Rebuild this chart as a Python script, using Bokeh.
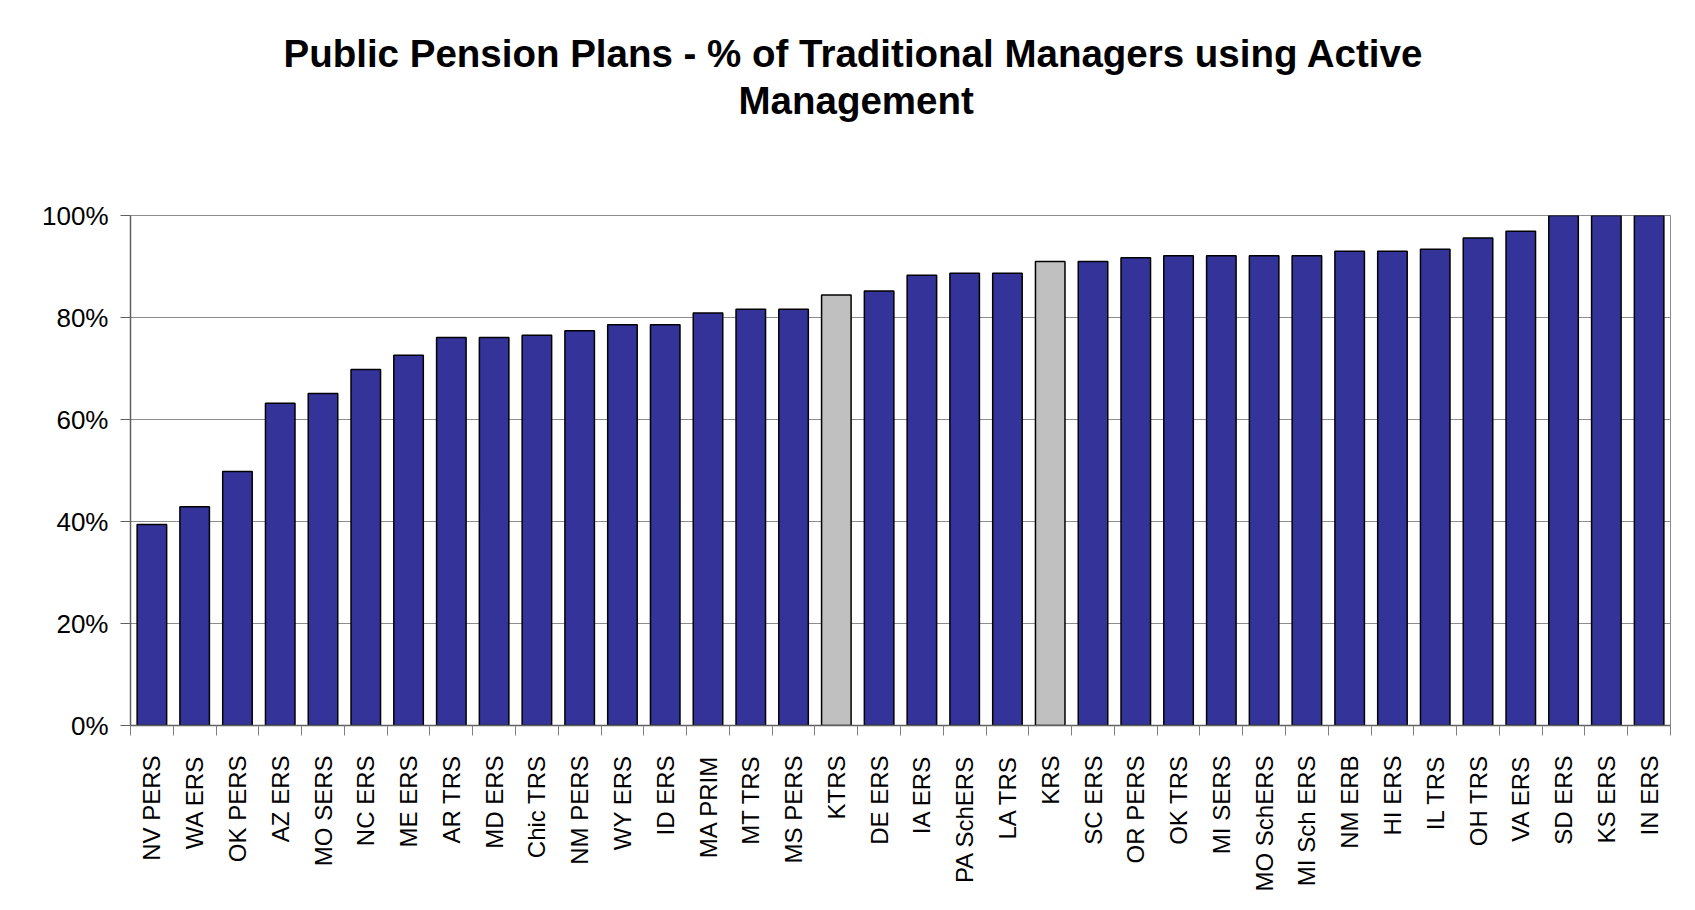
from bokeh.plotting import figure
from bokeh.models import Range1d, FixedTicker, PrintfTickFormatter, Title, ColumnDataSource
from bokeh.embed import file_html
from bokeh.resources import INLINE
import math

# ---- data ----
plans = ["NV PERS", "WA ERS", "OK PERS", "AZ ERS", "MO SERS", "NC ERS", "ME ERS",
         "AR TRS", "MD ERS", "Chic TRS", "NM PERS", "WY ERS", "ID ERS", "MA PRIM",
         "MT TRS", "MS PERS", "KTRS", "DE ERS", "IA ERS", "PA SchERS", "LA TRS",
         "KRS", "SC ERS", "OR PERS", "OK TRS", "MI SERS", "MO SchERS", "MI Sch ERS",
         "NM ERB", "HI ERS", "IL TRS", "OH TRS", "VA ERS", "SD ERS", "KS ERS", "IN ERS"]
active_pct = [39.4, 42.9, 49.8, 63.2, 65.1, 69.8, 72.6,
              76.1, 76.1, 76.5, 77.4, 78.6, 78.6, 80.9,
              81.6, 81.6, 84.4, 85.2, 88.3, 88.7, 88.7,
              91.0, 91.0, 91.7, 92.1, 92.1, 92.1, 92.1,
              93.0, 93.0, 93.4, 95.6, 96.9, 100.0, 100.0, 100.0]
highlighted = ["KTRS", "KRS"]
y_ticks = [0, 20, 40, 60, 80, 100]
title_lines = ["Public Pension Plans - % of Traditional Managers using Active", "Management"]

FONT = "Liberation Sans"
BLUE = "#333399"
GREY = "#C0C0C0"

n = len(plans)
xs = list(range(1, n + 1))
colors = [GREY if p in highlighted else BLUE for p in plans]
src = ColumnDataSource(dict(x=xs, top=active_pct, color=colors, plan=plans))

W, H = 1695, 908
p = figure(width=W, height=H, output_backend="svg", toolbar_location=None,
           x_range=Range1d(0.5, n + 0.5), y_range=Range1d(0, 100),
           min_border_left=130, min_border_right=25, min_border_top=215, min_border_bottom=183,
           background_fill_color="white", border_fill_color="white")
p.styles = {"outline": "1px solid #8c8c8c", "outline-offset": "-3px"}

# spacer between the frame and the two title lines
p.add_layout(Title(text=" ", text_font_size="2px", standoff=89), "above")
# second title line (nearer the frame)
p.add_layout(Title(text=title_lines[1], align="left", offset=608, standoff=2,
                   text_font=FONT, text_font_size="38.5px", text_font_style="bold",
                   text_color="black"), "above")
# first title line (plot title, outermost)
p.title.text = title_lines[0]
p.title.align = "left"
p.title.offset = 153
p.title.standoff = 2
p.title.text_font = FONT
p.title.text_font_size = "38.5px"
p.title.text_font_style = "bold"
p.title.text_color = "black"

p.vbar(x="x", top="top", width=0.69, bottom=0, source=src,
       fill_color="color", line_color="black", line_width=1.5)

# y axis
p.yaxis.ticker = FixedTicker(ticks=y_ticks, minor_ticks=[])
p.yaxis.formatter = PrintfTickFormatter(format="%d%%")
p.yaxis.major_label_text_font = FONT
p.yaxis.major_label_text_font_size = "26px"
p.yaxis.major_label_text_color = "black"
p.yaxis.major_tick_out = 10
p.yaxis.major_tick_in = 0
p.yaxis.minor_tick_line_color = None
p.yaxis.major_label_standoff = 12
p.yaxis.axis_line_color = "#606060"
p.yaxis.major_tick_line_color = "#606060"
p.yaxis.axis_line_width = 1.5

# x axis
p.xaxis.ticker = FixedTicker(ticks=xs, minor_ticks=[x - 0.5 for x in xs] + [n + 0.5])
p.xaxis.major_label_overrides = {x: name for x, name in zip(xs, plans)}
p.xaxis.major_label_orientation = math.pi / 2
p.xaxis.major_label_text_font = FONT
p.xaxis.major_label_text_font_size = "24px"
p.xaxis.major_label_text_color = "black"
p.xaxis.major_tick_out = 0
p.xaxis.major_tick_in = 0
p.xaxis.major_tick_line_color = None
p.xaxis.minor_tick_out = 10
p.xaxis.minor_tick_in = 0
p.xaxis.minor_tick_line_color = "#808080"
p.xaxis.major_label_standoff = 20
p.xaxis.axis_line_color = "#606060"
p.xaxis.axis_line_width = 1.5

p.xgrid.grid_line_color = None
p.ygrid.ticker = FixedTicker(ticks=y_ticks)
p.ygrid.grid_line_color = "#8c8c8c"
p.ygrid.grid_line_width = 1
p.outline_line_color = "#8c8c8c"
p.outline_line_width = 1

open("out.html", "w").write(file_html(p, INLINE))
